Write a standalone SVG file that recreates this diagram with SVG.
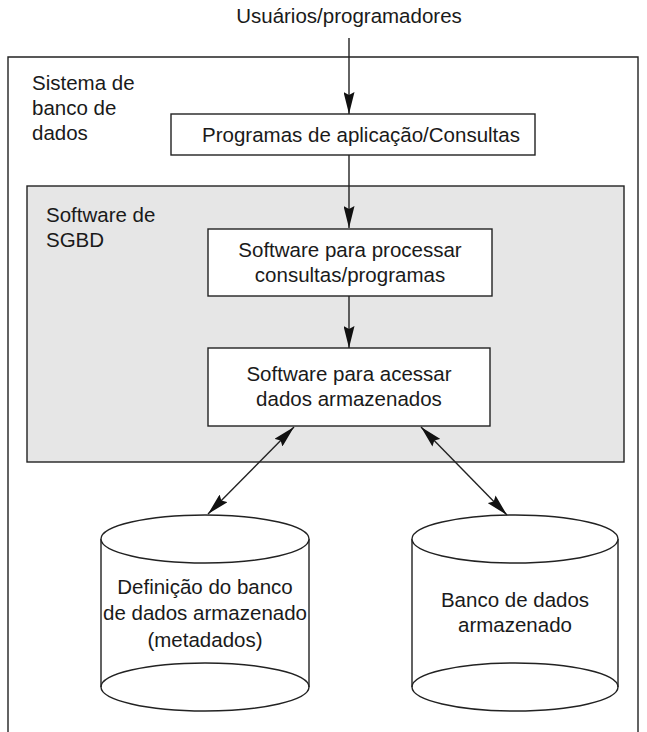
<svg xmlns="http://www.w3.org/2000/svg" width="647" height="732" viewBox="0 0 647 732">
<style>
text{font-family:"Liberation Sans",Arial,sans-serif;font-size:20.5px;fill:#1a1a1a}
.c{text-anchor:middle}
.box{fill:#fff;stroke:#222;stroke-width:1.4}
.ln{stroke:#222;stroke-width:1.4;fill:none}
</style>
<defs>
<marker id="ah" viewBox="0 0 22 11" refX="22" refY="5.5" markerWidth="22" markerHeight="11" markerUnits="userSpaceOnUse" orient="auto-start-reverse">
<path d="M0,0 L22,5.5 L0,11 L3,5.5 z" fill="#111"/>
</marker>
</defs>
<rect width="647" height="732" fill="#fff"/>
<g id="system">
<path class="ln" d="M8,732 V57 H638 V732"/>
<text x="32" y="90">Sistema de</text>
<text x="32" y="115">banco de</text>
<text x="32" y="140">dados</text>
</g>
<g id="users"><text class="c" x="349" y="23">Usuários/programadores</text></g>
<g id="sgbd">
<rect x="27" y="186" width="597" height="276" fill="#e6e6e6" stroke="#222" stroke-width="1.4"/>
<text x="46" y="222">Software de</text>
<text x="46" y="247">SGBD</text>
</g>
<g id="apps">
<rect class="box" x="171" y="114" width="364" height="41"/>
<text class="c" x="361" y="142">Programas de aplicação/Consultas</text>
</g>
<g id="proc">
<rect class="box" x="208" y="229" width="284" height="67"/>
<text class="c" x="350" y="257">Software para processar</text>
<text class="c" x="350" y="282">consultas/programas</text>
</g>
<g id="access">
<rect class="box" x="208" y="348" width="282" height="78"/>
<text class="c" x="349" y="381">Software para acessar</text>
<text class="c" x="349" y="406">dados armazenados</text>
</g>
<g id="meta">
<path class="box" d="M101,539 V687 A104,24 0 0 0 309,687 V539"/>
<ellipse class="box" cx="205" cy="539" rx="104" ry="24"/>
<path class="ln" d="M101,687 A104,24 0 0 1 309,687"/>
<text class="c" x="205" y="594">Definição do banco</text>
<text class="c" x="205" y="620">de dados armazenado</text>
<text class="c" x="205" y="647">(metadados)</text>
</g>
<g id="db">
<path class="box" d="M412,539 V687 A103,24 0 0 0 618,687 V539"/>
<ellipse class="box" cx="515" cy="539" rx="103" ry="24"/>
<path class="ln" d="M412,687 A103,24 0 0 1 618,687"/>
<text class="c" x="515" y="607">Banco de dados</text>
<text class="c" x="515" y="632">armazenado</text>
</g>
<g id="connectors">
<line class="ln" x1="349" y1="38" x2="349" y2="114" marker-end="url(#ah)"/>
<line class="ln" x1="349" y1="155" x2="349" y2="228" marker-end="url(#ah)"/>
<line class="ln" x1="349" y1="296" x2="349" y2="348" marker-end="url(#ah)"/>
<line class="ln" x1="294" y1="427" x2="208" y2="514" marker-start="url(#ah)" marker-end="url(#ah)"/>
<line class="ln" x1="421" y1="427" x2="507" y2="515" marker-start="url(#ah)" marker-end="url(#ah)"/>
</g>
</svg>
